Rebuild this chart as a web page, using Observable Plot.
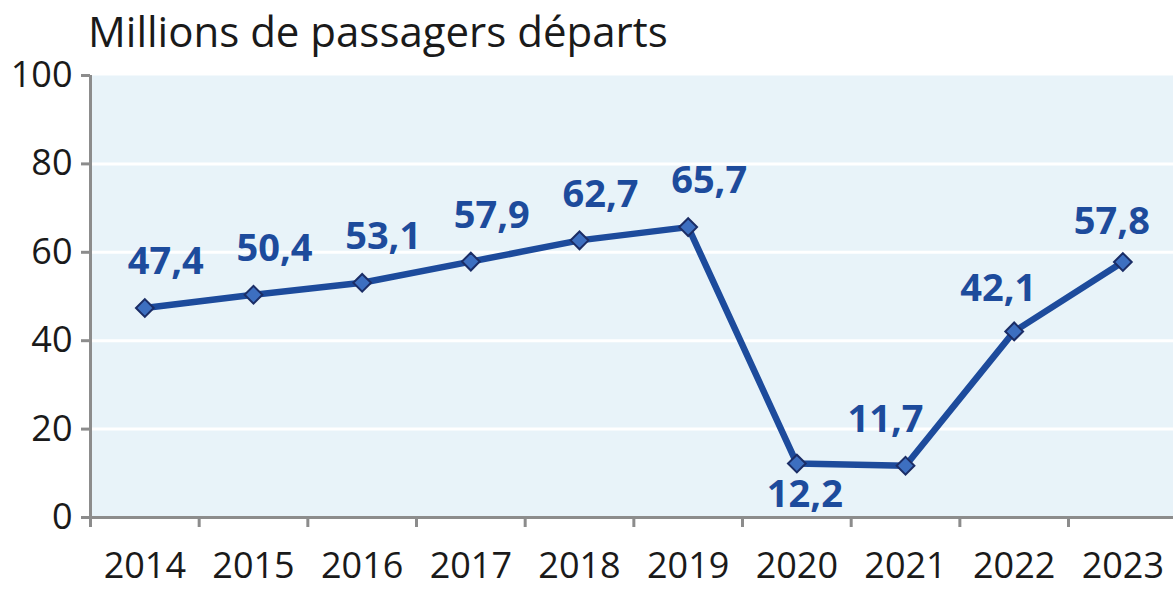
<!DOCTYPE html>
<html><head><meta charset="utf-8">
<script src="https://cdn.jsdelivr.net/npm/d3@7"></script>
<script src="https://cdn.jsdelivr.net/npm/@observablehq/plot@0.6"></script>
<style>
body{margin:0;background:#fff;}
#wrap{position:relative;width:1173px;height:590px;overflow:hidden;}
#wrap svg{position:absolute;left:0;top:0;}
#title{position:absolute;left:88px;top:10px;font-family:"Open Sans",sans-serif;font-size:42px;line-height:1;color:#1a1a1a;z-index:2;white-space:nowrap;}
</style></head><body>
<div id="wrap"><div id="title">Millions de passagers départs</div></div>
<script>
const years = [2014, 2015, 2016, 2017, 2018, 2019, 2020, 2021, 2022, 2023];
const values = [47.4, 50.4, 53.1, 57.9, 62.7, 65.7, 12.2, 11.7, 42.1, 57.8];
const valueLabels = ["47,4", "50,4", "53,1", "57,9", "62,7", "65,7", "12,2", "11,7", "42,1", "57,8"];
const yTicks = [0, 20, 40, 60, 80, 100];
const gridValues = [20, 40, 60, 80];

const data = years.map((year, i) => ({year, value: values[i], label: valueLabels[i]}));
const bounds = years.map(y => y - 0.5);
const FONT = "Open Sans";
const blue = "#1d4b9c";

const textOpts = {x: "year", y: "value", text: "label", fill: blue, fontWeight: "bold", fontSize: 38, fontFamily: FONT};
const pick = (ys) => data.filter(d => ys.includes(d.year));

const chart = Plot.plot({
  width: 1173,
  height: 590,
  marginLeft: 90,
  marginRight: 0,
  marginTop: 75,
  marginBottom: 73,
  style: {fontFamily: FONT, background: "transparent"},
  x: {domain: [2013.5, 2023.466], axis: null, label: null},
  y: {domain: [0, 100], axis: null, label: null},
  marks: [
    Plot.frame({fill: "#e8f3f9", stroke: null}),
    Plot.ruleY(gridValues, {stroke: "white", strokeWidth: 3}),
    Plot.axisY({ticks: yTicks, label: null, tickSize: 9, tickPadding: 9, fontSize: 36, fill: "#1a1a1a", stroke: "#8c8c8c", strokeWidth: 3, tickFormat: d => String(d)}),
    Plot.axisX({ticks: bounds, label: null, tickSize: 10, stroke: "#8c8c8c", strokeWidth: 3, tickFormat: () => ""}),
    Plot.axisX({ticks: years, label: null, tickSize: 0, tickPadding: 35, fontSize: 36, fill: "#1a1a1a", tickFormat: d => String(d)}),
    Plot.ruleX([2013.5], {stroke: "#8c8c8c", strokeWidth: 3}),
    Plot.ruleY([0], {stroke: "#8c8c8c", strokeWidth: 3}),
    Plot.line(data, {x: "year", y: "value", stroke: blue, strokeWidth: 6.5}),
    Plot.dot(data, {x: "year", y: "value", symbol: "diamond2", r: 8, fill: "#3d6fc0", stroke: "#1b2d66", strokeWidth: 2}),
    Plot.text(pick([2014, 2015, 2016, 2017, 2018, 2019]), {...textOpts, dx: 21, dy: -46}),
    Plot.text(pick([2020]), {...textOpts, dx: 8, dy: 31}),
    Plot.text(pick([2021]), {...textOpts, dx: -20, dy: -46}),
    Plot.text(pick([2022]), {...textOpts, dx: -16, dy: -43}),
    Plot.text(pick([2023]), {...textOpts, dx: -11, dy: -40})
  ]
});
document.getElementById("wrap").appendChild(chart);
</script>
</body></html>
